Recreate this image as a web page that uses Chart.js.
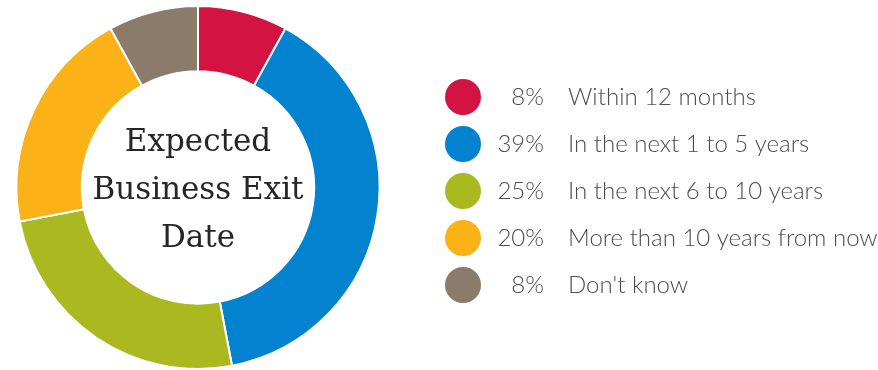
<!DOCTYPE html>
<html>
<head>
<meta charset="utf-8">
<script src="https://cdn.jsdelivr.net/npm/chart.js@4.4.0/dist/chart.umd.min.js"></script>
<style>
    html, body { margin: 0; padding: 0; background: #fff; }
    #wrap { width: 878px; height: 370px; }
</style>
</head>
<body>
<div id="wrap"><canvas id="exitChart"></canvas></div>
<script>
// chart data
let categories = ['Within 12 months', 'In the next 1 to 5 years', 'In the next 6 to 10 years', 'More than 10 years from now', "Don't know"];
let shares = [8, 39, 25, 20, 8];
let colors = ['#d31443', '#0282cf', '#a9b91f', '#fbb216', '#8b7b6b'];
let centerLines = ['Expected', 'Business Exit', 'Date'];

// legend on the right + title in the hole
let sidePlugin = {
    id: 'sideLegend',
    afterDraw: function (chart) {
        let ctx = chart.ctx;
        let arc = chart.getDatasetMeta(0).data[0];

        ctx.save();
        ctx.fillStyle = '#262626';
        ctx.font = '31px "DejaVu Serif"';
        ctx.textAlign = 'center';
        ctx.textBaseline = 'middle';
        centerLines.forEach(function (line, i) {
            ctx.fillText(line, arc.x, arc.y - 45 + i * 48);
        });

        ctx.font = '300 24px Lato';
        categories.forEach(function (cat, i) {
            let y = 97 + i * 47;
            ctx.beginPath();
            ctx.arc(463, y, 18, 0, Math.PI * 2);
            ctx.fillStyle = colors[i];
            ctx.fill();

            ctx.fillStyle = '#4d4d4d';
            ctx.textAlign = 'right';
            ctx.fillText(shares[i] + '%', 544, y);
            ctx.textAlign = 'left';
            ctx.fillText(cat, 568, y);
        });
        ctx.restore();
    }
};

new Chart(document.getElementById('exitChart').getContext('2d'), {
    type: 'doughnut',
    data: {
        labels: categories,
        datasets: [
            {
                data: shares,
                backgroundColor: colors,
                borderColor: '#fff',
                borderWidth: 2
            }
        ]
    },
    options: {
        responsive: true,
        maintainAspectRatio: false,
        animation: false,
        cutout: '64%',
        layout: { padding: { left: 15, right: 497, top: 5, bottom: 0 } },
        plugins: {
            legend: { display: false },
            tooltip: { enabled: false }
        }
    },
    plugins: [sidePlugin]
});
</script>
</body>
</html>
